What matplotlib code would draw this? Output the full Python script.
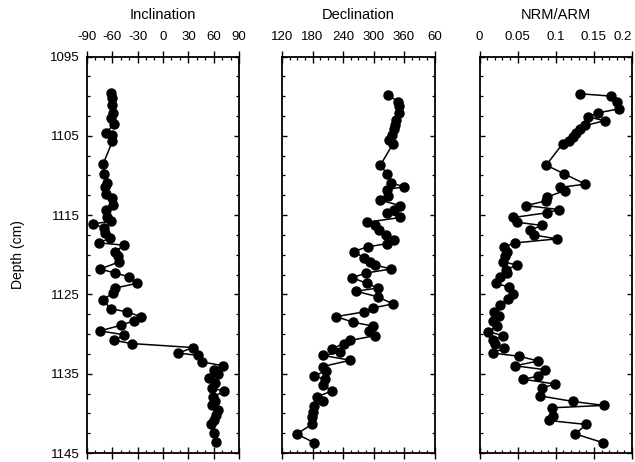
import matplotlib
matplotlib.use("Agg")
import matplotlib.pyplot as plt
from matplotlib.ticker import MultipleLocator

plt.rcParams['font.family'] = ['Liberation Sans', 'DejaVu Sans']
plt.rcParams['axes.unicode_minus'] = False

# Inclination (deg) vs depth (cm)
inc_depth = [1099.6, 1100.2, 1101.1, 1102.1, 1102.8, 1103.5, 1104.6, 1104.9, 1105.7, 1108.5,
             1109.8, 1111.0, 1111.4, 1112.4, 1112.9, 1113.7, 1114.3, 1115.2, 1115.8, 1116.1,
             1116.6, 1117.3, 1117.9, 1118.5, 1118.8, 1119.6, 1120.2, 1120.9, 1121.8, 1122.3,
             1122.8, 1123.6, 1124.2, 1124.8, 1125.7, 1126.8, 1127.2, 1127.8, 1128.3, 1128.9,
             1129.6, 1130.1, 1130.8, 1131.2, 1131.7, 1132.4, 1132.7, 1133.5, 1134.0, 1134.5,
             1135.1, 1135.6, 1136.2, 1136.8, 1137.2, 1137.9, 1138.5, 1139.0, 1139.6, 1140.2,
             1140.8, 1141.4, 1142.5, 1143.6]
inclination = [-61.6, -60.5, -59.7, -59.3, -61.3, -57.4, -67.5, -59.7, -59.7, -70.4,
               -69.6, -65.7, -68.4, -67.2, -60.5, -59.3, -67.2, -66.4, -61.6, -82.9,
               -69.6, -68.4, -62.5, -75.5, -45.6, -56.6, -52.7, -51.5, -74.3, -56.6,
               -39.6, -30.2, -56.6, -58.6, -71.1, -61.6, -42.7, -26.2, -33.7, -49.8,
               -74.3, -45.6, -57.4, -36.8, 35.3, 18.3, 41.9, 45.9, 70.7, 60.8,
               64.4, 54.9, 61.6, 57.7, 72.6, 59.6, 61.6, 57.7, 64.4, 62.8,
               60.5, 56.9, 60.8, 62.8]

# Declination (deg) vs depth (cm)
dec_depth = [1099.8, 1100.7, 1101.3, 1102.1, 1103.0, 1103.6, 1104.2, 1104.9, 1105.5, 1106.0,
             1108.7, 1109.8, 1111.0, 1111.4, 1111.8, 1112.6, 1113.1, 1113.8, 1114.3, 1114.7,
             1115.3, 1115.9, 1116.3, 1116.9, 1117.5, 1118.1, 1118.6, 1119.0, 1119.6, 1120.4,
             1120.9, 1121.3, 1121.8, 1122.3, 1122.9, 1123.6, 1124.2, 1124.6, 1125.3, 1126.2,
             1126.7, 1127.2, 1127.8, 1128.5, 1129.0, 1129.6, 1130.2, 1130.8, 1131.2, 1131.9,
             1132.3, 1132.7, 1133.3, 1134.1, 1134.6, 1135.3, 1135.7, 1136.4, 1137.2, 1137.9,
             1138.4, 1139.1, 1139.8, 1140.4, 1141.4, 1142.6, 1143.7]
declination = [328.6, 347.6, 349.6, 351.0, 345.0, 343.1, 339.7, 336.5, 331.2, 338.5,
               313.5, 326.7, 335.2, 360.8, 326.7, 327.9, 312.1, 352.9, 341.1, 326.7,
               352.9, 287.2, 303.6, 310.1, 325.3, 341.1, 326.7, 288.4, 260.7, 281.9,
               293.7, 303.6, 334.6, 285.8, 257.6, 287.2, 308.1, 266.1, 308.1, 338.5,
               299.0, 281.9, 226.6, 259.6, 299.0, 290.4, 303.6, 254.2, 241.0, 218.1,
               234.5, 201.5, 254.2, 200.3, 206.9, 183.2, 204.9, 201.5, 218.1, 188.5,
               201.5, 183.2, 181.8, 179.8, 178.6, 149.0, 183.2]

# NRM/ARM ratio vs depth (cm)
nrm_depth = [1099.7, 1100.0, 1100.7, 1101.6, 1102.1, 1102.6, 1103.1, 1103.7, 1104.2, 1104.7,
             1105.2, 1105.6, 1106.0, 1108.7, 1109.8, 1111.1, 1111.5, 1111.9, 1112.7, 1113.2,
             1113.8, 1114.3, 1114.7, 1115.3, 1115.9, 1116.3, 1116.9, 1117.5, 1118.0, 1118.5,
             1119.0, 1119.6, 1120.1, 1120.9, 1121.3, 1121.9, 1122.3, 1122.8, 1123.6, 1124.1,
             1125.0, 1125.6, 1126.3, 1127.2, 1127.7, 1128.4, 1129.0, 1129.7, 1130.2, 1130.8,
             1131.2, 1131.8, 1132.4, 1132.8, 1133.4, 1134.0, 1134.5, 1135.3, 1135.7, 1136.3,
             1136.8, 1137.8, 1138.5, 1139.0, 1139.3, 1140.3, 1140.9, 1141.4, 1142.6, 1143.7]
nrm_arm = [0.132, 0.173, 0.180, 0.183, 0.156, 0.142, 0.164, 0.139, 0.132, 0.126,
           0.123, 0.117, 0.109, 0.0875, 0.111, 0.139, 0.106, 0.1125, 0.089, 0.0875,
           0.061, 0.104, 0.089, 0.0445, 0.049, 0.082, 0.066, 0.071, 0.1015, 0.047,
           0.032, 0.0366, 0.0336, 0.0313, 0.049, 0.0349, 0.0366, 0.027, 0.0217, 0.0392,
           0.0437, 0.0379, 0.027, 0.019, 0.026, 0.018, 0.0226, 0.0116, 0.0313, 0.018,
           0.0204, 0.032, 0.0174, 0.052, 0.077, 0.0467, 0.086, 0.077, 0.0576, 0.099,
           0.082, 0.0796, 0.1226, 0.163, 0.095, 0.0963, 0.0905, 0.140, 0.1257, 0.162]

# Axis settings
depth_ticks = [1095, 1105, 1115, 1125, 1135, 1145]
inc_ticks = [-90, -60, -30, 0, 30, 60, 90]
dec_ticks = [120, 180, 240, 300, 360, 420]
dec_labels = ['120', '180', '240', '300', '360', '60']
nrm_ticks = [0, 0.05, 0.1, 0.15, 0.2]
nrm_labels = ['0', '0.05', '0.1', '0.15', '0.2']

W, H = 635, 462
fig = plt.figure(figsize=(W / 100, H / 100), dpi=100)

top_px, bot_px = 56.5, 453
panels = [
    (86.7, 'Inclination', inc_depth, inclination, (-90, 90), inc_ticks, None, 10),
    (282.0, 'Declination', dec_depth, declination, (120, 420), dec_ticks, dec_labels, 15),
    (479.5, 'NRM/ARM', nrm_depth, nrm_arm, (0, 0.2), nrm_ticks, nrm_labels, 0.01),
]

for i, (left_px, title, depth, vals, xlim, xt, xl, minor) in enumerate(panels):
    ax = fig.add_axes([left_px / W, (H - bot_px) / H, 152.5 / W, (bot_px - top_px) / H])
    ax.plot(vals, depth, '-o', color='black', lw=1.1, ms=6.5, mfc='black', mec='black')
    ax.set_xlim(*xlim)
    ax.set_ylim(1145, 1095)

    ax.set_xticks(xt)
    if xl is not None:
        ax.set_xticklabels(xl)
    ax.xaxis.set_minor_locator(MultipleLocator(minor))
    ax.set_yticks(depth_ticks)
    ax.yaxis.set_minor_locator(MultipleLocator(2.5))

    ax.tick_params(axis='x', which='major', direction='inout', length=9, width=1.0,
                   top=True, bottom=True, labeltop=True, labelbottom=False,
                   labelsize=9.5, pad=5)
    ax.tick_params(axis='x', which='minor', direction='in', length=2.5, width=0.9,
                   top=True, bottom=True)
    ax.tick_params(axis='y', which='major', direction='in', length=3.5, width=1.0,
                   left=True, right=True, labelleft=(i == 0), labelsize=9.5, pad=5)
    ax.tick_params(axis='y', which='minor', direction='in', length=2.5, width=0.9,
                   left=True, right=True)
    for sp in ax.spines.values():
        sp.set_linewidth(1.3)

    # derniere etiquette du panneau NRM/ARM alignee a droite pour rester dans l'image
    if i == 2:
        ax.get_xticklabels()[-1].set_horizontalalignment('right')

    # titre au-dessus des etiquettes
    ax.text(0.5, 1 + (top_px - 15) / (bot_px - top_px), title, transform=ax.transAxes,
            ha='center', va='center', fontsize=10.5)

fig.text(18 / W, 1 - 255 / H, 'Depth (cm)', rotation=90, ha='center', va='center',
         fontsize=10)

fig.savefig('out.png', dpi=100)
